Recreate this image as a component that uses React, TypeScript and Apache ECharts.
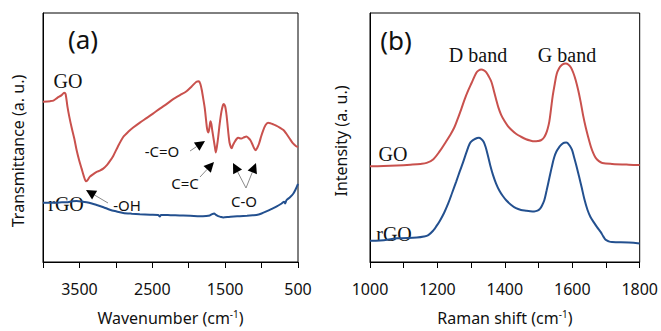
import React, { useEffect, useRef } from "react";
import * as echarts from "echarts";

// FTIR (a): [wavenumber cm-1, transmittance a.u.]
const ftirGO: [number, number][] = [
  [4000, 64.4], [3900, 64.6], [3858, 64.8], [3800, 66.0], [3744, 67.0], [3710, 68.0], [3690, 67.5],
  [3665, 62.5], [3640, 58.5], [3607, 54.0], [3570, 49.5], [3539, 45.0], [3505, 41.0], [3470, 37.5],
  [3440, 34.5], [3411, 32.4], [3385, 33.0], [3356, 34.3], [3310, 35.3], [3264, 36.2], [3220, 36.7],
  [3173, 37.5], [3120, 39.0], [3080, 40.6], [3036, 42.6], [2970, 46.5], [2899, 50.2], [2830, 52.3],
  [2762, 54.0], [2670, 56.0], [2579, 57.8], [2490, 59.6], [2396, 61.6], [2300, 63.5], [2213, 65.4],
  [2120, 67.0], [2030, 68.6], [1960, 70.5], [1894, 72.4], [1860, 72.6], [1840, 71.5], [1820, 69.0],
  [1800, 65.5], [1779, 61.6], [1760, 56.5], [1747, 53.4], [1729, 52.0], [1715, 54.0], [1702, 56.5],
  [1690, 55.5], [1675, 52.5], [1656, 49.0], [1640, 46.0], [1628, 44.0], [1612, 46.5], [1596, 50.0],
  [1575, 55.5], [1551, 60.4], [1530, 63.0], [1519, 63.5], [1500, 62.5], [1485, 60.0], [1470, 56.0],
  [1455, 51.5], [1440, 48.0], [1420, 46.0], [1410, 45.7], [1395, 46.8], [1368, 48.3], [1340, 49.5],
  [1322, 49.9], [1300, 49.7], [1276, 49.6], [1240, 50.1], [1207, 50.4], [1180, 49.8], [1153, 48.9],
  [1125, 47.2], [1100, 45.6], [1080, 44.9], [1060, 45.8], [1034, 47.6], [1005, 50.5], [980, 52.7],
  [945, 55.0], [911, 55.9], [880, 55.7], [842, 55.3], [800, 54.8], [751, 54.0], [700, 53.0],
  [659, 51.5], [615, 49.6], [568, 47.6], [530, 46.6], [500, 46.1],
];

const ftirRGO: [number, number][] = [
  [4000, 23.8], [3900, 23.8], [3813, 23.8], [3740, 24.0], [3676, 24.0], [3600, 24.4], [3539, 24.5],
  [3470, 24.3], [3402, 24.0], [3330, 23.5], [3264, 22.9], [3170, 22.0], [3082, 21.0], [2990, 20.3],
  [2899, 19.7], [2780, 19.4], [2671, 19.2], [2530, 19.0], [2420, 18.9], [2396, 18.3], [2380, 18.9],
  [2250, 18.8], [2122, 18.7], [1980, 18.6], [1848, 18.4], [1760, 18.5], [1711, 18.7], [1680, 19.2],
  [1651, 19.5], [1625, 18.9], [1596, 18.4], [1560, 18.1], [1528, 17.9], [1450, 18.1], [1380, 18.3],
  [1299, 18.4], [1200, 18.6], [1120, 18.8], [1071, 18.9], [1000, 19.5], [934, 20.3], [860, 21.3],
  [797, 22.2], [730, 23.4], [690, 24.2], [675, 23.5], [659, 24.8], [610, 26.0], [568, 27.3],
  [535, 29.0], [500, 31.4],
];

// Raman (b): [Raman shift cm-1, intensity a.u.]
const ramanGO: [number, number][] = [
  [1000, 38.5], [1040, 38.6], [1080, 38.8], [1120, 39.1], [1150, 39.4], [1168, 39.8], [1188, 41.3],
  [1207, 44.5], [1222, 47.6], [1237, 50.8], [1250, 54.0], [1261, 57.8], [1271, 61.5], [1281, 65.4],
  [1291, 68.8], [1301, 71.8], [1315, 75.9], [1322, 76.9], [1330, 77.3], [1338, 77.0], [1345, 76.2],
  [1352, 74.6], [1360, 72.4], [1367, 69.0], [1374, 65.4], [1381, 62.0], [1389, 59.1], [1399, 56.6],
  [1409, 54.6], [1420, 53.0], [1433, 51.5], [1448, 50.3], [1463, 49.3], [1475, 48.8], [1487, 48.5],
  [1498, 48.6], [1507, 48.9], [1515, 49.8], [1522, 51.5], [1527, 53.5], [1532, 56.5], [1537, 61.5],
  [1542, 66.7], [1548, 71.5], [1554, 75.6], [1561, 77.8], [1568, 79.0], [1575, 79.6], [1581, 79.7],
  [1588, 79.3], [1596, 78.1], [1603, 76.0], [1610, 73.1], [1618, 68.8], [1625, 64.2], [1632, 59.0],
  [1640, 54.0], [1648, 49.8], [1655, 46.4], [1662, 43.8], [1669, 41.9], [1679, 40.5], [1689, 39.8],
  [1718, 39.4], [1768, 39.1], [1800, 39.0],
];

const ramanRGO: [number, number][] = [
  [1000, 8.5], [1030, 8.6], [1080, 9.5], [1139, 9.8], [1160, 10.2], [1173, 10.8], [1188, 12.7],
  [1197, 14.4], [1207, 16.5], [1220, 19.8], [1232, 23.5], [1244, 27.9], [1256, 32.4], [1266, 36.3],
  [1276, 40.0], [1286, 44.0], [1296, 47.6], [1304, 48.8], [1311, 49.4], [1318, 49.8], [1323, 49.9],
  [1330, 49.4], [1337, 48.3], [1343, 46.2], [1350, 42.6], [1357, 38.7], [1365, 34.9], [1374, 31.5],
  [1384, 28.6], [1394, 26.5], [1404, 24.8], [1418, 23.0], [1433, 21.6], [1448, 20.9], [1463, 20.6],
  [1475, 20.4], [1487, 20.3], [1497, 20.6], [1504, 21.3], [1510, 22.6], [1517, 24.8], [1524, 28.8],
  [1532, 33.7], [1539, 38.0], [1546, 41.9], [1553, 44.4], [1561, 46.1], [1568, 47.2], [1576, 47.9],
  [1582, 48.0], [1586, 47.8], [1592, 46.8], [1599, 45.1], [1605, 42.3], [1612, 38.8], [1620, 34.4],
  [1628, 29.9], [1636, 25.2], [1645, 21.0], [1654, 18.1], [1664, 15.9], [1674, 13.9], [1684, 12.1],
  [1692, 10.3], [1699, 8.9], [1708, 8.3], [1718, 8.0], [1768, 7.8], [1800, 7.4],
];

const ftirTickLabels = [3500, 2500, 1500, 500];
const ramanTickLabels = [1000, 1200, 1400, 1600, 1800];

const RED = "#C9514D";
const BLUE = "#23508F";
const SANS = "'Noto Sans', 'Open Sans', sans-serif";
const SERIF = "'Liberation Serif', 'DejaVu Serif', serif";

function arrow(tail: [number, number], tip: [number, number]) {
  const dx = tip[0] - tail[0];
  const dy = tip[1] - tail[1];
  const len = Math.sqrt(dx * dx + dy * dy);
  const ux = dx / len;
  const uy = dy / len;
  const L = 10;
  const W = 5;
  const bx = tip[0] - ux * L;
  const by = tip[1] - uy * L;
  return [
    {
      type: "line",
      silent: true,
      shape: { x1: tail[0], y1: tail[1], x2: bx, y2: by },
      style: { stroke: "#8a8a8a", lineWidth: 1 },
    },
    {
      type: "polygon",
      silent: true,
      shape: {
        points: [
          [tip[0], tip[1]],
          [bx - uy * W, by + ux * W],
          [bx + uy * W, by - ux * W],
        ],
      },
      style: { fill: "#000" },
    },
  ];
}

function label(text: string, x: number, y: number, size: number, family: string, rotation = 0) {
  return {
    type: "text",
    silent: true,
    x,
    y,
    rotation,
    style: {
      text,
      fill: "#111",
      font: `${size}px ${family}`,
      align: "center",
      verticalAlign: "middle",
    },
  };
}

export default function App() {
  const ref = useRef<HTMLDivElement>(null);

  useEffect(() => {
    if (!ref.current) return;
    const chart = echarts.init(ref.current, undefined, { renderer: "svg" });

    const axisCommon = {
      type: "value",
      axisLine: { show: true, lineStyle: { color: "#000", width: 1 } },
      axisTick: { show: true, inside: false, length: 6, lineStyle: { color: "#000" } },
      splitLine: { show: false },
      nameLocation: "middle",
      nameGap: 47,
      nameTextStyle: {
        fontSize: 16,
        fontFamily: SANS,
        color: "#111",
        rich: {
          sup: { fontSize: 10, fontFamily: SANS, color: "#111", padding: [0, 0, 8, 0] },
        },
      },
    };

    const yCommon = {
      type: "value",
      min: 0,
      max: 100,
      axisLine: { show: true, lineStyle: { color: "#000", width: 1 } },
      axisTick: { show: false },
      axisLabel: { show: false },
      splitLine: { show: false },
    };

    const tickLabel = {
      margin: 19,
      fontSize: 16,
      fontFamily: SANS,
      color: "#111",
    };

    chart.setOption({
      animation: false,
      backgroundColor: "#fff",
      grid: [
        { left: 43, top: 13, width: 255, height: 262, show: true, borderColor: "#000", borderWidth: 1 },
        { left: 370, top: 13, width: 271, height: 262, show: true, borderColor: "#000", borderWidth: 1 },
      ],
      xAxis: [
        {
          ...axisCommon,
          gridIndex: 0,
          min: 500,
          max: 4000,
          interval: 500,
          inverse: true,
          name: "Wavenumber (cm{sup|-1})",
          axisLabel: {
            ...tickLabel,
            formatter: (v: number) => (ftirTickLabels.includes(v) ? String(v) : ""),
          },
        },
        {
          ...axisCommon,
          gridIndex: 1,
          min: 1000,
          max: 1800,
          interval: 100,
          name: "Raman shift (cm{sup|-1})",
          axisLabel: {
            ...tickLabel,
            showMinLabel: true,
            showMaxLabel: true,
            formatter: (v: number) => (ramanTickLabels.includes(v) ? String(v) : ""),
          },
        },
      ],
      yAxis: [
        { ...yCommon, gridIndex: 0 },
        { ...yCommon, gridIndex: 1 },
      ],
      series: [
        {
          name: "GO FTIR",
          type: "line",
          xAxisIndex: 0,
          yAxisIndex: 0,
          data: ftirGO,
          showSymbol: false,
          smooth: 0.25,
          lineStyle: { color: RED, width: 2 },
        },
        {
          name: "rGO FTIR",
          type: "line",
          xAxisIndex: 0,
          yAxisIndex: 0,
          data: ftirRGO,
          showSymbol: false,
          smooth: 0.25,
          lineStyle: { color: BLUE, width: 2 },
        },
        {
          name: "GO Raman",
          type: "line",
          xAxisIndex: 1,
          yAxisIndex: 1,
          data: ramanGO,
          showSymbol: false,
          smooth: 0.35,
          lineStyle: { color: RED, width: 2 },
        },
        {
          name: "rGO Raman",
          type: "line",
          xAxisIndex: 1,
          yAxisIndex: 1,
          data: ramanRGO,
          showSymbol: false,
          smooth: 0.35,
          lineStyle: { color: BLUE, width: 2 },
        },
      ],
      graphic: [
        label("Transmittance (a. u.)", 18, 151, 16, SANS, Math.PI / 2),
        label("Intensity (a. u.)", 341, 141, 16, SANS, Math.PI / 2),
        label("(a)", 83, 39, 26, SANS),
        label("GO", 68, 81, 20, SERIF),
        label("rGO", 66, 204, 20, SERIF),
        label("-OH", 127, 205, 15, SANS),
        label("-C=O", 162, 151, 15, SANS),
        label("C=C", 185, 183, 15, SANS),
        label("C-O", 244, 201, 15, SANS),
        ...arrow([108, 203], [86, 190]),
        ...arrow([190, 151], [205, 141]),
        ...arrow([200, 177], [214, 162]),
        ...arrow([246, 188], [233, 163]),
        ...arrow([246, 188], [256, 163]),
        label("(b)", 396, 40, 26, SANS),
        label("D band", 478, 55, 20, SERIF),
        label("G band", 567, 55, 20, SERIF),
        label("GO", 393, 154, 20, SERIF),
        label("rGO", 394, 234, 20, SERIF),
      ],
    });

    return () => chart.dispose();
  }, []);

  return (
    <div
      ref={ref}
      style={{ position: "fixed", left: 0, top: 0, width: 661, height: 331, background: "#fff" }}
    />
  );
}
